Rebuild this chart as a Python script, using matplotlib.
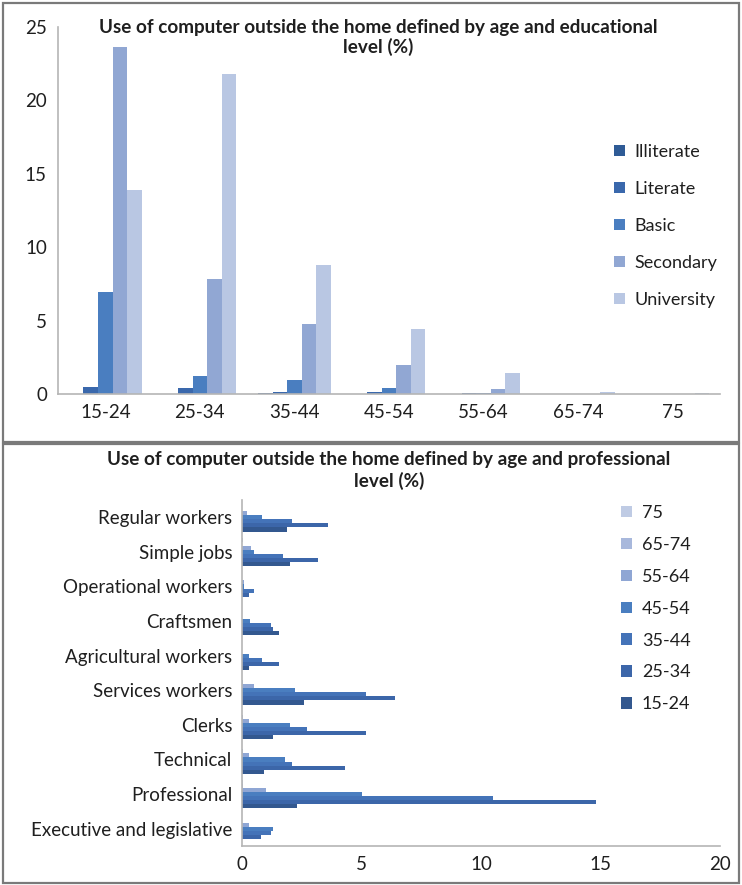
import matplotlib
matplotlib.use("Agg")
import matplotlib.pyplot as plt
from matplotlib.patches import Rectangle, Patch
import numpy as np

# ---- data: use by age group and educational level (%) ----
age_groups = ["15-24", "25-34", "35-44", "45-54", "55-64", "65-74", "75"]
education_levels = ["Illiterate", "Literate", "Basic", "Secondary", "University"]
illiterate = [0.0, 0.0, 0.1, 0.0, 0.0, 0.0, 0.0]
literate = [0.5, 0.38, 0.15, 0.12, 0.08, 0.0, 0.0]
basic = [6.95, 1.2, 0.95, 0.4, 0.08, 0.0, 0.0]
secondary = [23.65, 7.8, 4.75, 2.0, 0.33, 0.0, 0.0]
university = [13.9, 21.8, 8.8, 4.4, 1.4, 0.15, 0.08]

# ---- data: use by age group and professional level (%) ----
professions = ["Executive and legislative", "Professional", "Technical", "Clerks",
               "Services workers", "Agricultural workers", "Craftsmen",
               "Operational workers", "Simple jobs", "Regular workers"]
age_15_24 = [0.0, 2.3, 0.9, 1.3, 2.6, 0.3, 1.55, 0.0, 2.0, 1.9]
age_25_34 = [0.8, 14.8, 4.3, 5.2, 6.4, 1.55, 1.3, 0.31, 3.2, 3.6]
age_35_44 = [1.2, 10.5, 2.1, 2.7, 5.2, 0.82, 1.2, 0.52, 1.7, 2.08]
age_45_54 = [1.3, 5.0, 1.8, 2.0, 2.2, 0.3, 0.35, 0.1, 0.52, 0.82]
age_55_64 = [0.3, 1.0, 0.3, 0.3, 0.5, 0.0, 0.0, 0.08, 0.38, 0.2]
age_65_74 = [0.0, 0.05, 0.05, 0.05, 0.05, 0.0, 0.0, 0.0, 0.0, 0.0]
age_75 = [0.0, 0.05, 0.0, 0.0, 0.0, 0.0, 0.0, 0.0, 0.05, 0.0]

W, H = 742, 885
plt.rcParams['font.family'] = ['Lato', 'DejaVu Sans']
TEXT = '#1f1f1f'
AXIS = '#b5b5b5'
FRAME = '#7a7a7a'
TICK_FS = 13.5
LEG_FS = 13
TITLE_FS = 13.6

edu_series = [illiterate, literate, basic, secondary, university]
edu_colors = ['#2f5b96', '#3a68ac', '#4a7ec0', '#91a7d3', '#b9c7e3']

age_series = [age_15_24, age_25_34, age_35_44, age_45_54, age_55_64, age_65_74, age_75]
age_colors = ['#33588f', '#3c66a9', '#4473b8', '#4a7ec0', '#8fa6d4', '#a8b8dc', '#bfcbe4']


def rect(l, t, r, b):
    """Pixel box (left, top, right, bottom) -> figure fraction rectangle."""
    return [l / W, 1 - b / H, (r - l) / W, (b - t) / H]


def style_axes(ax):
    for s in ('top', 'right'):
        ax.spines[s].set_visible(False)
    for s in ('left', 'bottom'):
        ax.spines[s].set_color(AXIS)
        ax.spines[s].set_linewidth(1.2)
    ax.tick_params(length=0, labelsize=TICK_FS, labelcolor=TEXT)


fig = plt.figure(figsize=(W / 100, H / 100), dpi=100)

# panel frames
for top, bottom in ((3, 442), (444, 883)):
    fig.add_artist(Rectangle((3 / W, 1 - bottom / H), 736 / W, (bottom - top) / H,
                             transform=fig.transFigure, fill=False,
                             edgecolor=FRAME, linewidth=1.6))

# ---- top chart: grouped columns ----
ax1 = fig.add_axes(rect(58, 27, 720, 394))
x = np.arange(len(age_groups))
bw = 1 / 6.5
for k, (vals, col) in enumerate(zip(edu_series, edu_colors)):
    ax1.bar(x + (k - 2) * bw, vals, width=bw, color=col, linewidth=0)
ax1.set_xlim(-0.5, len(age_groups) - 0.5)
ax1.set_ylim(0, 25)
ax1.set_yticks([0, 5, 10, 15, 20, 25])
ax1.set_xticks(x)
ax1.set_xticklabels(age_groups)
style_axes(ax1)
ax1.tick_params(axis='y', pad=8)
ax1.tick_params(axis='x', pad=7)

fig.text(378 / W, 1 - 27 / H,
         "Use of computer outside the home defined by age and educational",
         ha='center', va='center', fontsize=TITLE_FS, fontweight='bold', color=TEXT)
fig.text(378 / W, 1 - 47 / H, "level (%)",
         ha='center', va='center', fontsize=TITLE_FS, fontweight='bold', color=TEXT)

edu_handles = [Patch(facecolor=c, edgecolor='none', label=l)
               for c, l in zip(edu_colors, education_levels)]
fig.legend(handles=edu_handles, loc='upper left',
           bbox_to_anchor=(614 / W, 1 - 144 / H), bbox_transform=fig.transFigure,
           frameon=False, fontsize=LEG_FS, handlelength=0.6, handleheight=0.6,
           handletextpad=0.55, labelspacing=1.16, borderpad=0, borderaxespad=0,
           labelcolor=TEXT)

# ---- bottom chart: grouped horizontal bars ----
ax2 = fig.add_axes(rect(242, 500, 720, 846))
y = np.arange(len(professions))
bh = 1 / 8.5
for j, (vals, col) in enumerate(zip(age_series, age_colors)):
    ax2.barh(y + (j - 3) * bh, vals, height=bh, color=col, linewidth=0)
ax2.set_ylim(-0.5, len(professions) - 0.5)
ax2.set_xlim(0, 20)
ax2.set_xticks([0, 5, 10, 15, 20])
ax2.set_yticks(y)
ax2.set_yticklabels(professions)
style_axes(ax2)
ax2.tick_params(axis='y', pad=7)
ax2.tick_params(axis='x', pad=7)

fig.text(389 / W, 1 - 460 / H,
         "Use of computer outside the home defined by age and professional",
         ha='center', va='center', fontsize=TITLE_FS, fontweight='bold', color=TEXT)
fig.text(389 / W, 1 - 481 / H, "level (%)",
         ha='center', va='center', fontsize=TITLE_FS, fontweight='bold', color=TEXT)

age_handles = [Patch(facecolor=c, edgecolor='none', label=l)
               for c, l in zip(age_colors[::-1], age_groups[::-1])]
fig.legend(handles=age_handles, loc='upper left',
           bbox_to_anchor=(621 / W, 1 - 505 / H), bbox_transform=fig.transFigure,
           frameon=False, fontsize=LEG_FS, handlelength=0.6, handleheight=0.6,
           handletextpad=0.55, labelspacing=0.88, borderpad=0, borderaxespad=0,
           labelcolor=TEXT)

fig.savefig("out.png", dpi=100)
